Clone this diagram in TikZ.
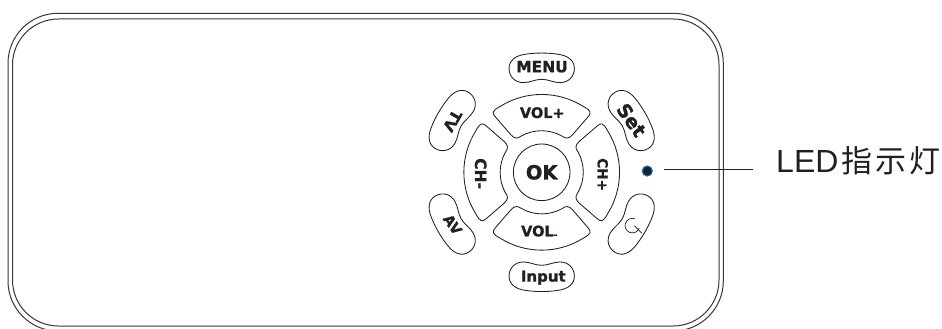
\documentclass[tikz,border=0pt]{standalone}
\usepackage{fontspec}
\setmainfont[BoldFeatures={FakeBold=1.2}]{DejaVu Sans}
\newfontfamily\labelfont{Liberation Sans}
\newfontfamily\cjkfont[LetterSpace=10]{Noto Sans CJK SC}
\definecolor{ink}{HTML}{231F20}
\definecolor{rim}{HTML}{0072BC}
\newcommand{\bigkey}[1]{%
  \begin{scope}[shift={(541.7,172.3)},rotate=#1,x=.3333pt,y=.3333pt]
    \draw[keyline] (-124,198) arc[start angle=122,end angle=58,radius=234]
      .. controls (150,184) and (150,178) .. (137,164) -- (92,112)
      .. controls (82,101) and (72,100) .. (62,108)
      arc[start angle=60,end angle=120,radius=125]
      .. controls (-72,100) and (-82,101) .. (-92,112) -- (-137,164)
      .. controls (-150,178) and (-150,184) .. (-124,198) -- cycle;
  \end{scope}}
\newcommand{\smallkey}[1]{%
  \begin{scope}[shift={(541.7,172.3)},rotate=#1,x=.3333pt,y=.3333pt]
    \begin{scope}[yshift=104pt]
    \draw[keyline] (-50,42) .. controls (-20,47) and (20,47) .. (50,42)
      .. controls (80,38) and (98,22) .. (98,0)
      .. controls (98,-25) and (80,-43) .. (55,-43)
      .. controls (35,-43) and (20,-33) .. (0,-33)
      .. controls (-20,-33) and (-35,-43) .. (-55,-43)
      .. controls (-80,-43) and (-98,-25) .. (-98,0)
      .. controls (-98,22) and (-80,38) .. (-50,42) -- cycle;
    \end{scope}
  \end{scope}}
\tikzset{
  keyline/.style={draw=ink,line width=.85pt,line join=round},
  shell/.style={draw=ink!90,line width=1pt},
  keytext/.style={inner sep=0pt,text=ink,font=\bfseries\fontsize{#1}{#1}\selectfont},
  leader/.style={draw=ink,line width=.8pt},
}
\begin{document}
\begin{tikzpicture}[x=1pt,y=-1pt]
\useasboundingbox (0,0) rectangle (942,329);
\clip (0,0) rectangle (942,329);
% casing
\draw[shell,rounded corners=50pt] (8,13.3) rectangle (723.3,331);
\draw[shell,rounded corners=46pt] (12.5,19) rectangle (719,326);
% keys
\bigkey{0}\bigkey{90}\bigkey{180}\bigkey{270}
\smallkey{0}\smallkey{60}\smallkey{120}\smallkey{180}\smallkey{240}\smallkey{300}
\node[circle,keyline,minimum size=56.6pt,inner sep=0pt,keytext=19.5] (ok) at (541.7,172.3) {OK};
\node[keytext=15.5] (menu) at (542,66.7) {MENU};
\node[keytext=15] (input) at (543.3,277.7) {Input};
\node[keytext=14.5] (volp) at (542.3,112.7) {VOL+};
\node[keytext=14.5] (volm) at (539.3,231.7) {VOL{\fontsize{9}{9}\selectfont\raisebox{-1.5pt}{-}}};
\node[keytext=15.5,rotate=-90] (chm) at (480.7,173.6) {CH-};
\node[keytext=13.7,rotate=-90] (chp) at (602.7,174.6) {CH+};
\node[keytext=15,rotate=240] (tv) at (452.5,121) {TV};
\node[keytext=19,rotate=-55] (set) at (631.5,120) {Set};
\node[keytext=14,rotate=-55] (av) at (452.7,224.5) {AV};
% power symbol
\coordinate (pwrc) at (632.3,225.7);
\draw[keyline,line width=.7pt] (pwrc) ++(2,0) -- ++(7.7,7.7);
\draw[keyline,line width=.7pt] (pwrc) ++(6.9,2.4) arc[start angle=20,end angle=290,radius=7.3];
% LED
\node[circle,fill=ink,draw=rim,line width=1.1pt,minimum size=10pt,inner sep=0pt] (led) at (647.3,171) {};
\coordinate (leadstart) at (664,169.3);
\coordinate (leadend) at (752.7,169.3);
\draw[leader] (leadstart) -- (leadend);
\node[anchor=base west,inner sep=0pt,text=ink] (ledlabel) at (776,172) {\labelfont\fontsize{32}{32}\selectfont LED\hspace{3pt}\cjkfont\fontsize{31}{31}\selectfont 指示灯};
\end{tikzpicture}
\end{document}
